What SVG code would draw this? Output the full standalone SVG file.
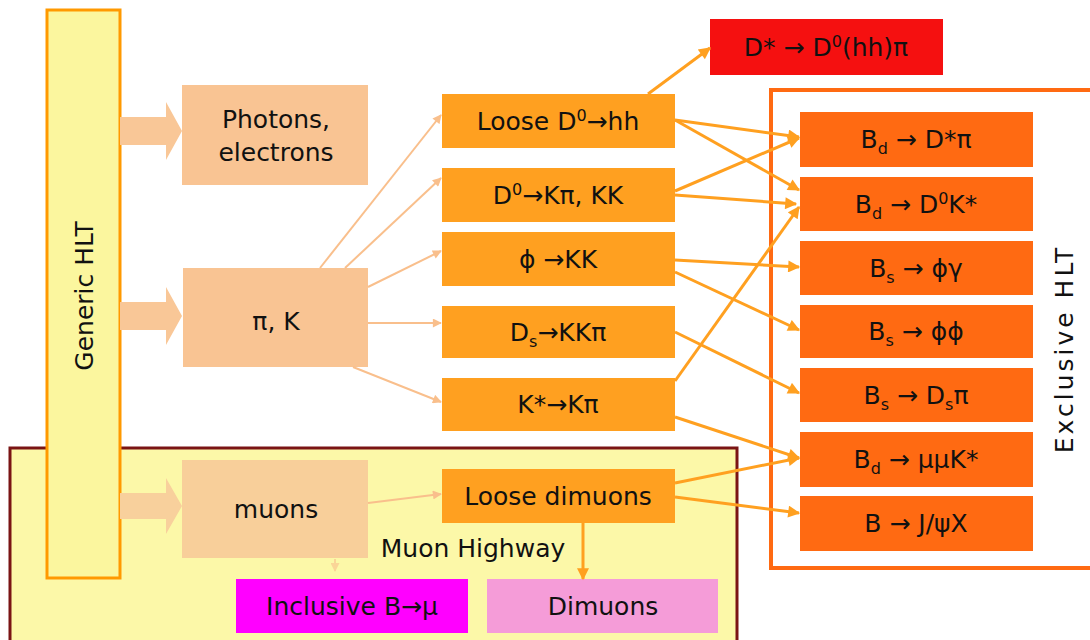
<svg xmlns="http://www.w3.org/2000/svg" width="1090" height="640" viewBox="0 0 1090 640">
<defs>
<style>
text{font-family:"DejaVu Sans","Liberation Sans",sans-serif;font-size:25px;fill:#111;text-anchor:middle}
.peach{fill:#F9C493}
.mid{fill:#FFA020}
.right{fill:#FF6A12}
.oc{stroke:#FFA020;stroke-width:3;fill:none;marker-end:url(#ah)}
.fc{stroke:#F9BF8C;stroke-width:2;fill:none;marker-end:url(#fh)}
</style>
<marker id="ah" viewBox="0 0 10 10" refX="9" refY="5" markerWidth="14" markerHeight="12" markerUnits="userSpaceOnUse" orient="auto"><path d="M0,0 L10,5 L0,10 z" fill="#FFA020"/></marker>
<marker id="fh" viewBox="0 0 10 10" refX="9" refY="5" markerWidth="10" markerHeight="9" markerUnits="userSpaceOnUse" orient="auto"><path d="M0,0 L10,5 L0,10 z" fill="#F9BF8C"/></marker>
</defs>
<rect width="1090" height="640" fill="#FFFFFF"/>

<g id="muon-highway">
<rect x="10" y="448" width="727" height="200" fill="#FCF8A8" stroke="#7A1414" stroke-width="3"/>
<text x="473" y="557" font-size="26">Muon Highway</text>
</g>

<g id="exclusive-hlt">
<rect x="771" y="90" width="330" height="478" fill="#FFFFFF" stroke="#FF6A12" stroke-width="4"/>
<text transform="translate(1073,349) rotate(-90)" letter-spacing="3">Exclusive HLT</text>
</g>

<g id="generic-hlt">
<rect x="47" y="10" width="73" height="568" fill="#FBF69E" stroke="#FF9900" stroke-width="3"/>
<text transform="translate(93,296) rotate(-90)">Generic HLT</text>
</g>

<g id="block-arrows">
<polygon points="120,117 166,117 166,102 182,131 166,160 166,145 120,145" fill="#F9C797"/>
<polygon points="120,302 166,302 166,287 182,316 166,345 166,330 120,330" fill="#F9C797"/>
<polygon points="120,493 166,493 166,478 182,506 166,534 166,519 120,519" fill="#F8D09C"/>
</g>

<g id="photons">
<rect x="182" y="85" width="186" height="100" class="peach"/>
<text x="276" y="128">Photons,</text>
<text x="276" y="161">electrons</text>
</g>
<g id="pik">
<rect x="183" y="268" width="185" height="99" class="peach"/>
<text x="276" y="330">π, K</text>
</g>
<g id="muons">
<rect x="182" y="460" width="186" height="98" fill="#F8CF9A"/>
<text x="276" y="518">muons</text>
</g>

<g id="loose-d0">
<rect x="442" y="94" width="233" height="54" class="mid"/>
<text x="558" y="130">Loose D<tspan dy="-9" font-size="16">0</tspan><tspan dy="9">→hh</tspan></text>
</g>
<g id="d0-kpi">
<rect x="442" y="168" width="233" height="54" class="mid"/>
<text x="558" y="204">D<tspan dy="-9" font-size="16">0</tspan><tspan dy="9">→Kπ, KK</tspan></text>
</g>
<g id="phi-kk">
<rect x="442" y="232" width="233" height="54" class="mid"/>
<text x="558" y="268">ϕ →KK</text>
</g>
<g id="ds-kkpi">
<rect x="442" y="306" width="233" height="52" class="mid"/>
<text x="558" y="341">D<tspan dy="6" font-size="16">s</tspan><tspan dy="-6">→KKπ</tspan></text>
</g>
<g id="kstar-kpi">
<rect x="442" y="378" width="233" height="53" class="mid"/>
<text x="558" y="413">K*→Kπ</text>
</g>
<g id="loose-dimuons">
<rect x="442" y="469" width="233" height="54" class="mid"/>
<text x="558" y="505">Loose dimuons</text>
</g>

<g id="dstar">
<rect x="710" y="19" width="233" height="56" fill="#F51010"/>
<text x="826" y="56">D* → D<tspan dy="-9" font-size="16">0</tspan><tspan dy="9">(hh)π</tspan></text>
</g>

<g id="bd-dstarpi">
<rect x="800" y="112" width="233" height="55" class="right"/>
<text x="916" y="148">B<tspan dy="6" font-size="16">d</tspan><tspan dy="-6"> → D*π</tspan></text>
</g>
<g id="bd-d0kstar">
<rect x="800" y="177" width="233" height="54" class="right"/>
<text x="916" y="213">B<tspan dy="6" font-size="16">d</tspan><tspan dy="-6"> → D</tspan><tspan dy="-9" font-size="16">0</tspan><tspan dy="9">K*</tspan></text>
</g>
<g id="bs-phigamma">
<rect x="800" y="241" width="233" height="54" class="right"/>
<text x="916" y="277">B<tspan dy="6" font-size="16">s</tspan><tspan dy="-6"> → ϕγ</tspan></text>
</g>
<g id="bs-phiphi">
<rect x="800" y="305" width="233" height="53" class="right"/>
<text x="916" y="340">B<tspan dy="6" font-size="16">s</tspan><tspan dy="-6"> → ϕϕ</tspan></text>
</g>
<g id="bs-dspi">
<rect x="800" y="368" width="233" height="54" class="right"/>
<text x="916" y="404">B<tspan dy="6" font-size="16">s</tspan><tspan dy="-6"> → D</tspan><tspan dy="6" font-size="16">s</tspan><tspan dy="-6">π</tspan></text>
</g>
<g id="bd-mumukstar">
<rect x="800" y="432" width="233" height="55" class="right"/>
<text x="916" y="468">B<tspan dy="6" font-size="16">d</tspan><tspan dy="-6"> → μμK*</tspan></text>
</g>
<g id="b-jpsix">
<rect x="800" y="496" width="233" height="55" class="right"/>
<text x="916" y="532">B → J/ψX</text>
</g>

<g id="inclusive-b-mu">
<rect x="236" y="579" width="232" height="54" fill="#FF00FF"/>
<text x="352" y="615">Inclusive B→μ</text>
</g>
<g id="dimuons">
<rect x="487" y="579" width="231" height="54" fill="#F59CD8"/>
<text x="603" y="615">Dimuons</text>
</g>

<g id="connectors">
<line class="fc" x1="320" y1="268" x2="441" y2="115"/>
<line class="fc" x1="345" y1="268" x2="441" y2="178"/>
<line class="fc" x1="368" y1="287" x2="441" y2="251"/>
<line class="fc" x1="368" y1="323" x2="441" y2="323"/>
<line class="fc" x1="353" y1="367" x2="441" y2="402"/>
<line class="fc" x1="368" y1="503" x2="441" y2="494"/>
<line class="fc" x1="335" y1="559" x2="335" y2="571" opacity="0.6"/>

<line class="oc" x1="675" y1="120" x2="799" y2="137"/>
<line class="oc" x1="675" y1="120" x2="799" y2="190"/>
<line class="oc" x1="675" y1="191" x2="799" y2="138"/>
<line class="oc" x1="675" y1="195" x2="796" y2="204"/>
<line class="oc" x1="675" y1="381" x2="799" y2="207"/>
<line class="oc" x1="675" y1="260" x2="799" y2="267"/>
<line class="oc" x1="675" y1="272" x2="799" y2="330"/>
<line class="oc" x1="675" y1="332" x2="799" y2="393"/>
<line class="oc" x1="675" y1="417" x2="799" y2="458"/>
<line class="oc" x1="675" y1="483" x2="799" y2="458"/>
<line class="oc" x1="675" y1="497" x2="799" y2="513"/>
<line class="oc" x1="648" y1="94" x2="710" y2="48"/>
<line class="oc" x1="583" y1="523" x2="583" y2="579"/>
</g>
</svg>
